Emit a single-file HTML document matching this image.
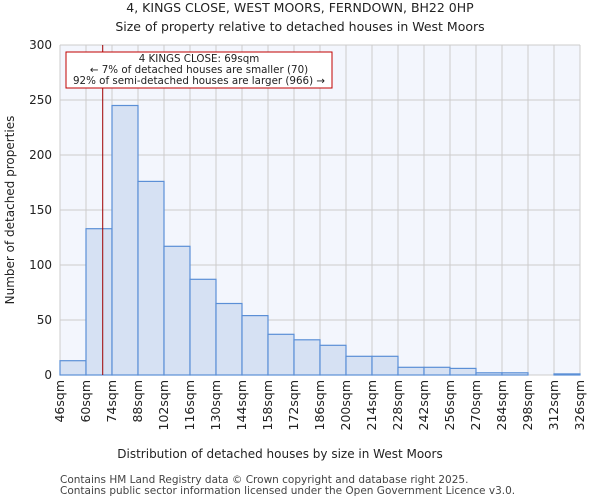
<!DOCTYPE html>
<html><head><meta charset="utf-8"><style>
body{margin:0;background:#fff;font-family:"DejaVu Sans","Liberation Sans",sans-serif}
</style></head><body>
<svg id="c" width="600" height="500" xmlns="http://www.w3.org/2000/svg" font-family="DejaVu Sans, Liberation Sans, sans-serif">
<text x="300" y="12" text-anchor="middle" font-size="12.5" fill="#222">4, KINGS CLOSE, WEST MOORS, FERNDOWN, BH22 0HP</text>
<text x="300" y="31" text-anchor="middle" font-size="12.5" fill="#222">Size of property relative to detached houses in West Moors</text>
<rect x="60" y="45" width="520" height="330" fill="#f3f6fd"/>
<g id="grid"></g><g id="bars"></g><g id="ticks"></g>
<text x="280" y="458" text-anchor="middle" font-size="12" fill="#222">Distribution of detached houses by size in West Moors</text>
<text transform="translate(14,210) rotate(-90)" text-anchor="middle" font-size="12" fill="#222">Number of detached properties</text>
<text x="60" y="483" font-size="10.5" fill="#444">Contains HM Land Registry data © Crown copyright and database right 2025.</text>
<text x="60" y="494" font-size="10.5" fill="#444">Contains public sector information licensed under the Open Government Licence v3.0.</text>
</svg>
<script>
const binStarts=[46,60,74,88,102,116,130,144,158,172,186,200,214,228,242,256,270,284,298,312];
const counts=[13,133,245,176,117,87,65,54,37,32,27,17,17,7,7,6,2,2,0,1];
const xTicks=[46,60,74,88,102,116,130,144,158,172,186,200,214,228,242,256,270,284,298,312,326];
const yTicks=[0,50,100,150,200,250,300];
const subjectSize=69;
const NS="http://www.w3.org/2000/svg";
const X0=60,X1=580,Y0=375,Y1=45;
const xs=v=>X0+(v-46)/(326-46)*(X1-X0);
const ys=v=>Y0-(v/300)*(Y0-Y1);
function mk(p,t,a){const e=document.createElementNS(NS,t);for(const k in a)e.setAttribute(k,a[k]);p.appendChild(e);return e;}
const svg=document.getElementById('c'),grid=document.getElementById('grid'),bars=document.getElementById('bars'),ticks=document.getElementById('ticks');
xTicks.forEach(t=>{const l=mk(grid,'line',{x1:xs(t),x2:xs(t),y1:Y1,y2:Y0,stroke:'#cccccc'});


const x=xs(t);const tx=mk(ticks,'text',{transform:`translate(${x+4},380) rotate(-90)`,'text-anchor':'end','font-size':'12.5',fill:'#222'});tx.textContent=t+'sqm';

});
yTicks.forEach(t=>{const l=mk(grid,'line',{x1:X0,x2:X1,y1:ys(t),y2:ys(t),stroke:'#cccccc'});


const tx=mk(ticks,'text',{x:52,y:ys(t)+4,'text-anchor':'end','font-size':'12',fill:'#222'});tx.textContent=t;

});
binStarts.forEach((b,i)=>{if(counts[i]<=0)return;const r=mk(bars,'rect',{x:xs(b),y:ys(counts[i]),width:xs(b+14)-xs(b),height:ys(0)-ys(counts[i]),fill:'#d6e1f3',stroke:'#5b8fd6','stroke-width':1.2});

});
const vl=mk(svg,'line',{x1:xs(subjectSize),x2:xs(subjectSize),y1:Y1,y2:Y0,stroke:'#a00000','stroke-width':1});


const box=mk(svg,'rect',{x:66,y:52,width:266,height:36,fill:'#fff',stroke:'#c00000','stroke-width':1});


["4 KINGS CLOSE: 69sqm","← 7% of detached houses are smaller (70)","92% of semi-detached houses are larger (966) →"].forEach((s,i)=>{const t=mk(svg,'text',{x:199,y:62+i*11,'text-anchor':'middle','font-size':'10.3',fill:'#222'});t.textContent=s;

});
</script>
</body></html>
